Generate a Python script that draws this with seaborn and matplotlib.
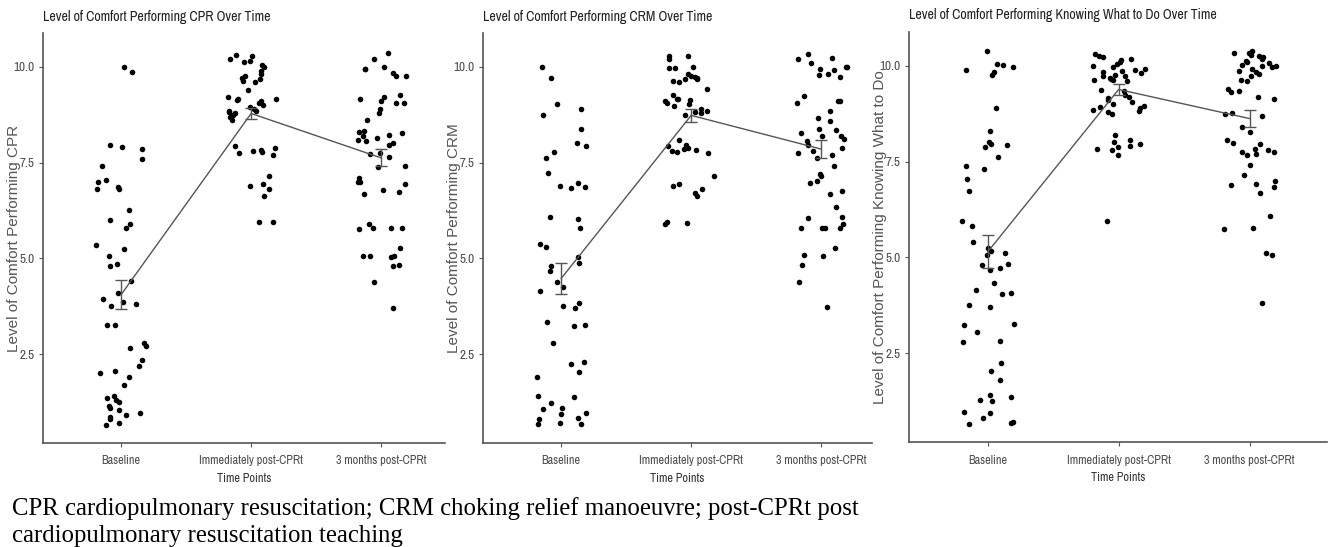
import numpy as np
import pandas as pd
import matplotlib
matplotlib.use("Agg")
import matplotlib.pyplot as plt
import seaborn as sns

# categories
time_points = ["Baseline", "Immediately post-CPRt", "3 months post-CPRt"]

# CPR panel - individual (jittered) ratings
cpr_baseline = [10.0, 9.85, 7.95, 7.9, 7.85, 7.6, 7.4, 7.05, 7.0, 6.85, 6.8, 6.8, 6.25, 6.0,
                5.9, 5.8, 5.35, 5.25, 5.05, 4.85, 4.8, 4.4, 4.1, 3.95, 3.85, 3.8, 3.75, 3.25,
                3.25, 2.8, 2.7, 2.65, 2.35, 2.2, 2.05, 2.0, 1.9, 1.7, 1.4, 1.35, 1.3, 1.25,
                1.15, 1.1, 1.05, 0.95, 0.9, 0.85, 0.8, 0.7, 0.65]
cpr_post = [10.3, 10.28, 10.2, 10.15, 10.12, 10.05, 10.0, 9.9, 9.8, 9.75, 9.68, 9.63, 9.6,
            9.7, 9.38, 9.22, 9.17, 9.15, 9.12, 9.1, 9.06, 9.0, 8.95, 8.85, 8.85, 8.82, 8.78,
            8.75, 8.7, 8.6, 8.9, 7.93, 7.88, 7.83, 7.8, 7.77, 7.76, 7.7, 7.15, 6.95, 6.9,
            6.8, 6.63, 5.95, 5.95]
cpr_3m = [10.35, 10.2, 10.0, 9.95, 9.93, 9.84, 9.77, 9.75, 9.25, 9.21, 9.15, 9.1, 9.06,
          9.05, 8.89, 8.78, 8.61, 8.32, 8.3, 8.28, 8.23, 8.2, 8.15, 8.1, 8.06, 8.02, 7.97,
          7.76, 7.71, 7.65, 7.4, 7.37, 7.09, 7.0, 6.98, 6.93, 6.78, 6.73, 6.67, 5.89, 5.8,
          5.78, 5.78, 5.77, 5.28, 5.06, 5.05, 5.05, 5.03, 4.82, 4.8, 4.37, 3.7]

# CRM panel
crm_baseline = [10.0, 9.7, 9.04, 8.89, 8.73, 8.37, 8.0, 7.93, 7.77, 7.63, 7.22, 6.97, 6.86,
                6.83, 6.9, 6.09, 6.02, 5.8, 5.38, 5.3, 5.03, 4.89, 4.8, 4.67, 4.39, 4.26,
                4.15, 3.83, 3.76, 3.71, 3.34, 3.25, 3.23, 2.8, 2.3, 2.25, 2.03, 1.9, 1.41,
                1.37, 1.23, 1.1, 1.08, 0.97, 0.93, 0.84, 0.8, 0.71, 0.67, 0.67]
crm_post = [10.28, 10.27, 10.19, 10.0, 9.97, 9.97, 9.8, 9.76, 9.74, 9.7, 9.69, 9.67, 9.63,
            9.6, 9.41, 9.25, 9.15, 9.15, 9.13, 9.1, 9.06, 9.02, 8.97, 8.9, 8.84, 8.82, 8.78,
            8.73, 7.93, 7.89, 7.86, 7.83, 7.8, 7.78, 7.74, 8.1, 7.95, 7.15, 6.95, 6.9, 6.8,
            6.71, 6.63, 5.95, 5.93, 5.89]
crm_3m = [10.32, 10.24, 10.21, 10.1, 10.0, 10.0, 9.93, 9.92, 9.8, 9.78, 9.74, 9.23, 9.1,
          9.06, 9.1, 8.84, 8.66, 8.58, 8.37, 8.35, 8.28, 8.2, 8.18, 8.12, 8.06, 7.95, 7.89,
          7.8, 7.74, 7.69, 7.63, 7.4, 7.19, 7.15, 7.02, 6.97, 6.76, 6.67, 6.33, 6.07, 6.05,
          5.89, 5.8, 5.8, 5.8, 5.78, 5.28, 5.08, 5.06, 4.82, 4.37, 3.74]

# Knowing what to do panel
know_baseline = [10.39, 10.04, 10.02, 9.96, 9.9, 9.84, 9.77, 8.9, 8.29, 7.96, 7.94, 7.89, 8.0,
                 7.63, 7.37, 7.31, 7.05, 6.73, 5.95, 5.81, 5.4, 5.25, 5.16, 5.1, 5.05, 4.83,
                 4.79, 4.72, 4.66, 4.33, 4.14, 4.07, 4.05, 3.75, 3.71, 3.27, 3.23, 3.06, 2.82,
                 2.8, 2.23, 2.03, 1.8, 1.41, 1.35, 1.28, 1.25, 0.95, 0.93, 0.8, 0.71, 0.67, 0.65]
know_post = [10.3, 10.26, 10.22, 10.18, 10.15, 10.1, 10.04, 10.0, 9.96, 9.91, 9.89, 9.87,
             9.83, 9.8, 9.77, 9.74, 9.72, 9.68, 9.65, 9.64, 9.63, 9.61, 9.37, 9.35, 9.24,
             9.18, 9.16, 9.11, 9.05, 9.0, 8.93, 8.9, 8.85, 8.83, 8.78, 8.74, 8.96, 8.18, 8.06,
             8.0, 7.96, 7.91, 7.87, 7.83, 7.79, 7.68, 5.96]
know_3m = [10.39, 10.33, 10.32, 10.29, 10.26, 10.22, 10.18, 10.13, 10.09, 10.06, 10.03,
           10.0, 9.98, 9.96, 9.91, 9.87, 9.83, 9.79, 9.72, 9.63, 9.61, 9.39, 9.33, 9.31,
           9.18, 9.13, 8.77, 8.75, 8.7, 8.39, 8.26, 8.06, 7.98, 7.96, 7.83, 7.81, 7.76, 7.74,
           7.7, 7.66, 7.4, 7.14, 7.0, 6.92, 6.88, 6.68, 6.83, 6.09, 5.77, 5.75, 5.1, 5.05,
           3.81]

# group means and standard errors
cpr_mean = [4.05, 8.78, 7.62]
cpr_se = [0.38, 0.15, 0.22]
crm_mean = [4.47, 8.73, 7.85]
crm_se = [0.41, 0.17, 0.24]
know_mean = [5.14, 9.38, 8.62]
know_se = [0.43, 0.14, 0.23]

titles = ["Level of Comfort Performing CPR Over Time",
          "Level of Comfort Performing CRM Over Time",
          "Level of Comfort Performing Knowing What to Do Over Time"]
ylabels = ["Level of Comfort Performing CPR",
           "Level of Comfort Performing CRM",
           "Level of Comfort Performing Knowing What to Do"]
caption = ("CPR cardiopulmonary resuscitation; CRM choking relief manoeuvre; post-CPRt post\n"
           "cardiopulmonary resuscitation teaching")

sns.set_style("ticks")
narrow = ["Archivo Narrow", "PT Sans Narrow", "DejaVu Sans"]
plain = ["Liberation Sans", "DejaVu Sans"]
serif = ["Liberation Serif", "DejaVu Serif"]

W, H = 1328, 547
fig = plt.figure(figsize=(W / 100, H / 100), dpi=100)

# panel boxes in pixels: left, right, top, bottom, xlim right
boxes = [(43, 445, 33, 443, 2.49), (483, 872, 33, 443, 2.39), (909, 1327, 32, 442, 2.59)]
panels = [(cpr_baseline, cpr_post, cpr_3m, cpr_mean, cpr_se),
          (crm_baseline, crm_post, crm_3m, crm_mean, crm_se),
          (know_baseline, know_post, know_3m, know_mean, know_se)]

np.random.seed(3)
for i, ((l, r, t, b, xr), (g0, g1, g2, mean, se)) in enumerate(zip(boxes, panels)):
    ax = fig.add_axes([l / W, 1 - b / H, (r - l) / W, (b - t) / H])
    df = pd.DataFrame({
        "time": [time_points[0]] * len(g0) + [time_points[1]] * len(g1) + [time_points[2]] * len(g2),
        "score": g0 + g1 + g2,
    })
    sns.stripplot(data=df, x="time", y="score", order=time_points, jitter=0.2,
                  color="black", size=4.0, linewidth=0, ax=ax, zorder=2)
    summ = pd.DataFrame({"time": time_points, "mean": mean, "se": se})
    sns.lineplot(data=summ, x="time", y="mean", color="#555555", linewidth=1.0,
                 sort=False, ax=ax, zorder=3)
    ax.errorbar(range(3), summ["mean"], yerr=summ["se"], fmt="none", ecolor="#555555",
                elinewidth=1.0, capsize=4.5, capthick=1.0, zorder=3)

    ax.set_xlim(-0.6, xr)
    ax.set_ylim(0.18, 10.88)
    ax.set_yticks([2.5, 5.0, 7.5, 10.0])
    ax.set_yticklabels(["2.5", "5.0", "7.5", "10.0"], family=narrow, fontsize=9.5, color="#4d4d4d")
    ax.set_xticks(range(3))
    ax.set_xticklabels(time_points, family=narrow, fontsize=8.8, color="#4d4d4d")
    ax.tick_params(axis="both", length=3, width=0.8, color="#555555", pad=3)
    ax.tick_params(axis="x", pad=6)
    for s in ["top", "right"]:
        ax.spines[s].set_visible(False)
    for s in ["left", "bottom"]:
        ax.spines[s].set_color("#555555")
        ax.spines[s].set_linewidth(1.2)
    ax.set_ylabel(ylabels[i], family=plain, fontsize=11, color="#555555")
    ax.yaxis.set_label_coords(-22 / (r - l), 0.5)
    ax.set_xlabel("Time Points", family=narrow, fontsize=8.8, color="#333333", labelpad=5)
    ax.set_title(titles[i], family=narrow, fontsize=10, color="#222222", loc="left",
                 x=0, pad=9)

fig.text(12 / W, 1 - 522 / H, caption, family=serif, fontsize=17.8, va="center",
         ha="left", linespacing=1.25, color="black")

fig.savefig("out.png", dpi=100)
